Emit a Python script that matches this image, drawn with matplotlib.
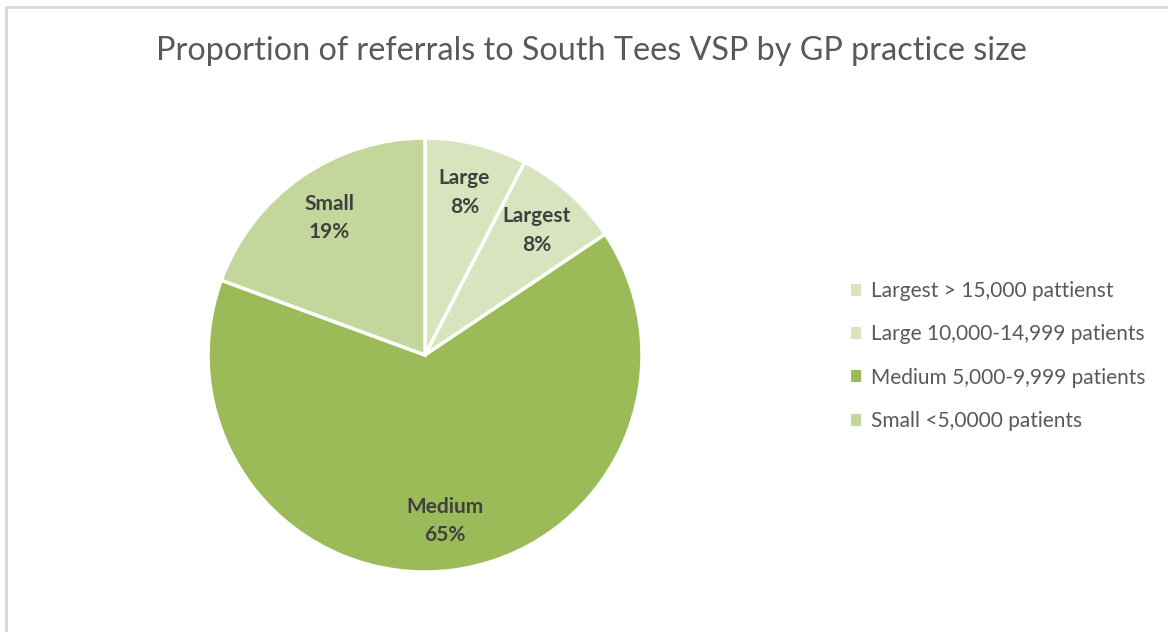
import matplotlib.pyplot as plt
from matplotlib.lines import Line2D

plt.rcParams['font.family'] = ['Lato', 'DejaVu Sans']

# pie slices, clockwise from 12 o'clock
names = ['Large', 'Largest', 'Medium', 'Small']
shares = [7.6, 8.0, 65.0, 19.4]
colours = ['#D7E4BD', '#D7E4BD', '#9BBB59', '#C3D69B']

# legend entries (order as in the legend)
legend_order = [1, 0, 2, 3]
legend_labels = ['Largest > 15,000 pattienst',
                 'Large 10,000-14,999 patients',
                 'Medium 5,000-9,999 patients',
                 'Small <5,0000 patients']

title = 'Proportion of referrals to South Tees VSP by GP practice size'
grey = '#595959'

fig = plt.figure(figsize=(11.68, 6.32), dpi=100)
W, H = 1168, 632

# faint chart border (top and left only visible)
fig.add_artist(Line2D([6 / W, 6 / W], [0, 1 - 7 / H], transform=fig.transFigure,
                      color='#D9D9D9', lw=2))
fig.add_artist(Line2D([6 / W, 1], [1 - 7 / H, 1 - 7 / H], transform=fig.transFigure,
                      color='#D9D9D9', lw=2))

fig.text(591 / W, 1 - 51 / H, title, ha='center', va='center',
         fontsize=23.3, color=grey)

cx, cy, r = 425, 355, 217
ax = fig.add_axes([(cx - r) / W, 1 - (cy + r) / H, 2 * r / W, 2 * r / H])

labels = [f'{n}\n{s:.0f}%' for n, s in zip(names, shares)]
wedges, texts = ax.pie(shares, labels=labels, colors=colours, startangle=90,
                       counterclock=False, labeldistance=0.77,
                       wedgeprops=dict(edgecolor='white', linewidth=2.5))
for t in texts:
    t.set_ha('center')
    t.set_va('center')
    t.set_fontsize(15)
    t.set_fontweight('bold')
    t.set_color('#404040')
    t.set_linespacing(1.55)
ax.set_xlim(-1, 1)
ax.set_ylim(-1, 1)
ax.set_aspect('equal')

leg = fig.legend([wedges[i] for i in legend_order], legend_labels,
                 loc='center left', bbox_to_anchor=(832 / W, 1 - 356 / H),
                 frameon=False, fontsize=15, labelcolor=grey,
                 handlelength=0.5, handleheight=0.5, handletextpad=0.45,
                 labelspacing=1.12)
for h in leg.legend_handles:
    h.set_edgecolor('none')

fig.savefig('out.png', dpi=100)
